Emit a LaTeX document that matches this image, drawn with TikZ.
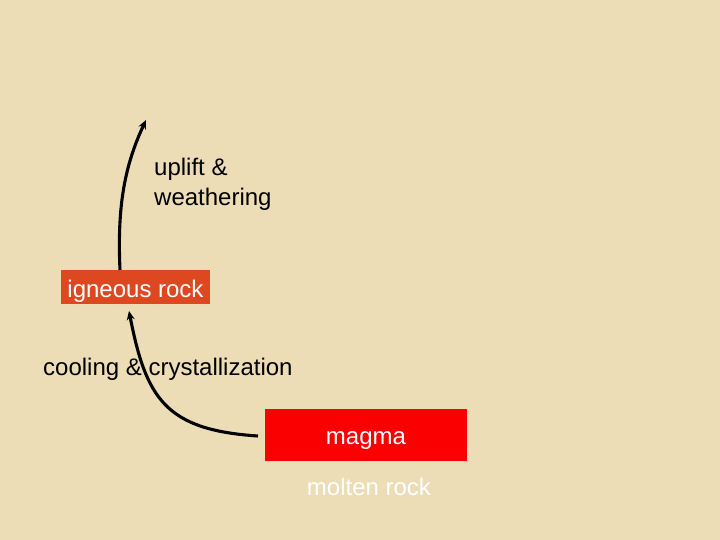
\documentclass[tikz,border=0pt]{standalone}
\usepackage{fontspec}
\setmainfont{Liberation Sans}
\usetikzlibrary{arrows.meta}
\definecolor{paper}{RGB}{237,221,183}
\definecolor{igncol}{RGB}{222,72,32}
\definecolor{magcol}{RGB}{250,0,0}
\tikzset{
  lbl/.style={font=\fontsize{24pt}{29pt}\selectfont, text=black, inner sep=0pt},
  boxlbl/.style={font=\fontsize{24pt}{29pt}\selectfont, text=white, inner sep=0pt},
  flow/.style={line width=3.1pt, -{Stealth[length=9pt,width=8pt]}},
}
\begin{document}
\begin{tikzpicture}[x=1pt,y=-1pt]
\fill[paper] (0,0) rectangle (720,540);
\useasboundingbox (0,0) rectangle (720,540);
% boxes
\node[fill=igncol, minimum width=149pt, minimum height=34pt, inner sep=0pt] (ign) at (135.5,287) {};
\node[boxlbl, anchor=base] (igntxt) at (135.5,297) {igneous rock};
\node[fill=magcol, minimum width=202pt, minimum height=52pt, inner sep=0pt] (mag) at (366,435) {};
\node[boxlbl, anchor=base] (magtxt) at (366,444) {magma};
\node[boxlbl, anchor=base] (molten) at (369,495) {molten rock};
% labels
\node[lbl, anchor=base west] (up1) at (154,176) {uplift \&};
\node[lbl, anchor=base west] (up2) at (154,206) {weathering};
\node[lbl, anchor=base west] (cool) at (43,375) {cooling \& crystallization};
% connectors
\coordinate (uptip) at (146,120);
\coordinate (igntop) at (120,270);
\coordinate (magleft) at (258,436);
\coordinate (ignbot) at (129,311);
\draw[flow] (igntop) .. controls (117,205) and (125,165) .. (uptip);
\draw[flow] (magleft) .. controls (165,430) and (146,398) .. (ignbot);
\end{tikzpicture}
\end{document}
